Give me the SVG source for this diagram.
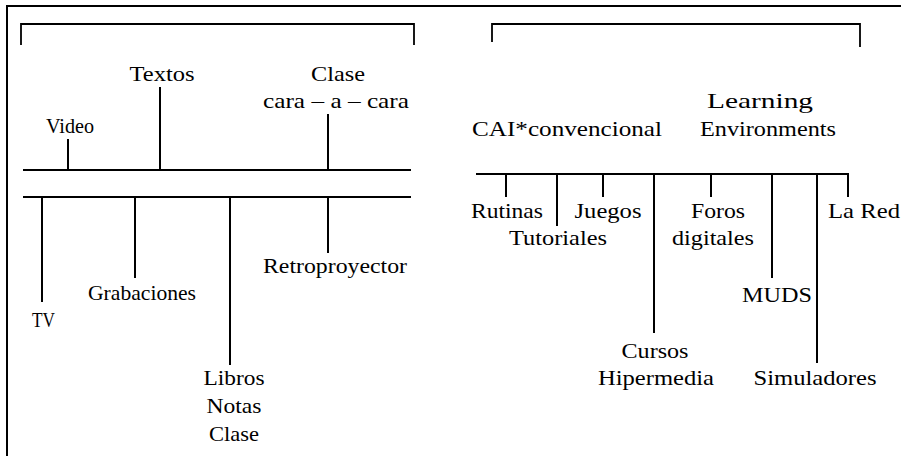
<svg xmlns="http://www.w3.org/2000/svg" width="901" height="456" viewBox="0 0 901 456">
<style>
.ln{stroke:#000;stroke-width:2;fill:none;stroke-linecap:butt}
.br{stroke:#000;stroke-width:1.8;fill:none}
.t{font-family:'Liberation Serif','Times New Roman',serif;font-size:22px;fill:#000;text-anchor:middle}
</style>
<rect width="901" height="456" fill="#fff"/>
<g id="frame">
<path class="ln" d="M7,456 V6 H901"/>
</g>
<g id="connectors">
<path class="br" d="M21,45 V24 H414 V45"/>
<path class="br" d="M492,42 V24 H860 V47"/>
<path class="ln" d="M23,170 H411 M23,197 H411"/>
<path class="ln" d="M68,139 V170 M160,87 V170 M328,114 V170"/>
<path class="ln" d="M42,197 V302 M135,197 V278 M230,197 V365 M328,197 V253"/>
<path class="ln" d="M476,174 H848 V197"/>
<path class="ln" d="M506,174 V197 M557,174 V226 M603,174 V197 M654,174 V333 M711,174 V197 M772,174 V278 M817,174 V363"/>
</g>
<g class="t" font-family="Liberation Serif, serif">
<g id="n-video"><text x="70" y="133" textLength="48" lengthAdjust="spacingAndGlyphs">Video</text></g>
<g id="n-textos"><text x="162" y="81" textLength="65" lengthAdjust="spacingAndGlyphs">Textos</text></g>
<g id="n-clase"><text x="338" y="81" textLength="54" lengthAdjust="spacingAndGlyphs">Clase</text><text x="336" y="108" textLength="146" lengthAdjust="spacingAndGlyphs">cara – a – cara</text></g>
<g id="n-tv"><text x="43.5" y="327" textLength="23" lengthAdjust="spacingAndGlyphs">TV</text></g>
<g id="n-grabaciones"><text x="142" y="300" textLength="108" lengthAdjust="spacingAndGlyphs">Grabaciones</text></g>
<g id="n-libros"><text x="234" y="385" textLength="61" lengthAdjust="spacingAndGlyphs">Libros</text><text x="234" y="413" textLength="55" lengthAdjust="spacingAndGlyphs">Notas</text><text x="234" y="441" textLength="50" lengthAdjust="spacingAndGlyphs">Clase</text></g>
<g id="n-retro"><text x="335" y="273" textLength="144" lengthAdjust="spacingAndGlyphs">Retroproyector</text></g>
<g id="n-cai"><text x="567" y="136" textLength="190" lengthAdjust="spacingAndGlyphs">CAI*convencional</text></g>
<g id="n-learning"><text x="760" y="108" textLength="106" lengthAdjust="spacingAndGlyphs">Learning</text><text x="768" y="136" textLength="136" lengthAdjust="spacingAndGlyphs">Environments</text></g>
<g id="n-rutinas"><text x="507" y="218" textLength="72" lengthAdjust="spacingAndGlyphs">Rutinas</text></g>
<g id="n-tutoriales"><text x="558" y="245" textLength="98" lengthAdjust="spacingAndGlyphs">Tutoriales</text></g>
<g id="n-juegos"><text x="608" y="218" textLength="67" lengthAdjust="spacingAndGlyphs">Juegos</text></g>
<g id="n-cursos"><text x="655" y="358" textLength="67" lengthAdjust="spacingAndGlyphs">Cursos</text><text x="656" y="385" textLength="116" lengthAdjust="spacingAndGlyphs">Hipermedia</text></g>
<g id="n-foros"><text x="718" y="218" textLength="54" lengthAdjust="spacingAndGlyphs">Foros</text><text x="713" y="245" textLength="82" lengthAdjust="spacingAndGlyphs">digitales</text></g>
<g id="n-muds"><text x="777" y="302" textLength="70" lengthAdjust="spacingAndGlyphs">MUDS</text></g>
<g id="n-simuladores"><text x="815" y="385" textLength="123" lengthAdjust="spacingAndGlyphs">Simuladores</text></g>
<g id="n-lared"><text x="864" y="218" textLength="72" lengthAdjust="spacingAndGlyphs">La Red</text></g>
</g>
</svg>
